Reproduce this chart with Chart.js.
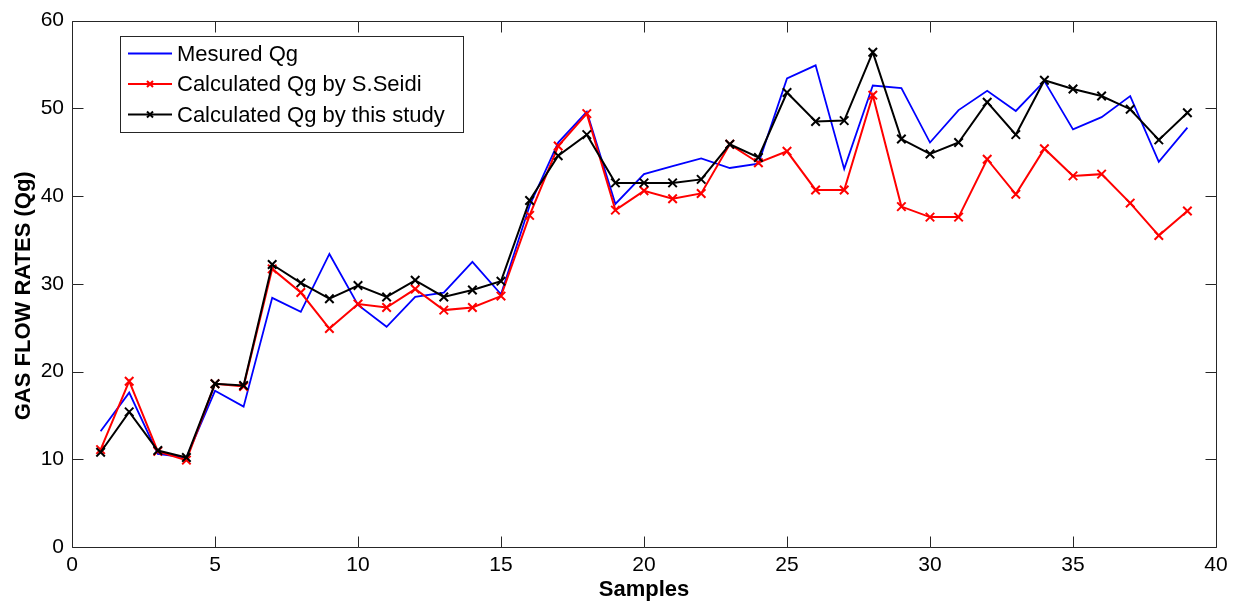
<!DOCTYPE html>
<html>
<head>
<meta charset="utf-8">
<script src="https://cdn.jsdelivr.net/npm/chart.js@4.4.0/dist/chart.umd.min.js"></script>
<style>
  html, body { margin: 0; padding: 0; background: #fff; }
  #wrap { width: 1246px; height: 606px; }
</style>
</head>
<body>
<div id="wrap"><canvas id="chart" width="1246" height="606"></canvas></div>
<script>
// samples on the x axis
const samples = [1, 2, 3, 4, 5, 6, 7, 8, 9, 10, 11, 12, 13, 14, 15, 16, 17, 18, 19, 20,
  21, 22, 23, 24, 25, 26, 27, 28, 29, 30, 31, 32, 33, 34, 35, 36, 37, 38, 39];
// gas flow rates
const measuredQg = [13.2, 17.6, 10.6, 10.2, 17.8, 16.0, 28.4, 26.8, 33.4, 27.6, 25.1, 28.5, 29.0, 32.5, 28.8, 38.9, 46.1, 49.6, 39.1, 42.5,
  43.4, 44.3, 43.2, 43.7, 53.4, 54.9, 43.1, 52.6, 52.3, 46.1, 49.8, 52.0, 49.7, 53.1, 47.6, 49.0, 51.4, 43.9, 47.8];
const seidiQg = [11.1, 18.9, 10.9, 9.9, 18.6, 18.3, 31.7, 29.0, 24.9, 27.7, 27.3, 29.4, 27.0, 27.3, 28.6, 37.8, 45.7, 49.4, 38.4, 40.6,
  39.7, 40.3, 45.9, 43.8, 45.1, 40.7, 40.7, 51.5, 38.8, 37.6, 37.6, 44.2, 40.2, 45.4, 42.3, 42.5, 39.2, 35.5, 38.3];
const studyQg = [10.8, 15.4, 11.0, 10.2, 18.6, 18.4, 32.2, 30.1, 28.3, 29.8, 28.5, 30.4, 28.5, 29.3, 30.3, 39.5, 44.6, 47.0, 41.5, 41.5,
  41.5, 41.9, 45.9, 44.4, 51.8, 48.5, 48.6, 56.4, 46.5, 44.8, 46.1, 50.7, 47.0, 53.2, 52.2, 51.4, 49.9, 46.4, 49.5];
const xTicks = [0, 5, 10, 15, 20, 25, 30, 35, 40];
const yTicks = [0, 10, 20, 30, 40, 50, 60];

const FONT = "'Liberation Sans', Arial, sans-serif";

let pts = (v) => samples.map((x, i) => ({x: x, y: v[i]}));

// box round the axes with ticks pointing inward
const axesBox =
{
  id: 'axesBox',
  afterDatasetsDraw(chart)
  {
    const {ctx, chartArea: a, scales: {x, y}} = chart;
    const L = Math.round(a.left) + 0.5, R = Math.round(a.right) + 0.5;
    const T = Math.round(a.top) + 0.5, B = Math.round(a.bottom) + 0.5;
    const tl = 11;
    ctx.save();
    ctx.strokeStyle = '#262626';
    ctx.lineWidth = 1;
    ctx.beginPath();
    ctx.rect(L, T, R - L, B - T);
    for (let v of xTicks)
    {
      let px = Math.round(x.getPixelForValue(v)) + 0.5;
      ctx.moveTo(px, B); ctx.lineTo(px, B - tl);
      ctx.moveTo(px, T); ctx.lineTo(px, T + tl);
    }
    for (let v of yTicks)
    {
      let py = Math.round(y.getPixelForValue(v)) + 0.5;
      ctx.moveTo(L, py); ctx.lineTo(L + tl, py);
      ctx.moveTo(R, py); ctx.lineTo(R - tl, py);
    }
    ctx.stroke();
    ctx.restore();
  }
};

// y title sits a little below the middle of the axis in the original
const yTitle =
{
  id: 'yTitle',
  afterDraw(chart)
  {
    const {ctx, chartArea: a} = chart;
    ctx.save();
    ctx.translate(24, (a.top + a.bottom) / 2 + 12);
    ctx.rotate(-Math.PI / 2);
    ctx.font = 'bold 22px ' + FONT;
    ctx.fillStyle = '#000';
    ctx.textAlign = 'center';
    ctx.textBaseline = 'middle';
    ctx.fillText('GAS FLOW RATES (Qg)', 0, 0);
    ctx.restore();
  }
};

// legend box in the upper left corner
const boxLegend =
{
  id: 'boxLegend',
  afterDraw(chart)
  {
    const ctx = chart.ctx;
    const bx = 120.5, by = 36.5, bw = 343, bh = 96;
    ctx.save();
    ctx.fillStyle = '#fff';
    ctx.fillRect(bx, by, bw, bh);
    ctx.strokeStyle = '#262626';
    ctx.lineWidth = 1;
    ctx.strokeRect(bx, by, bw, bh);
    ctx.font = '22px ' + FONT;
    ctx.textBaseline = 'middle';
    ctx.textAlign = 'left';
    chart.data.datasets.forEach((d, i) =>
    {
      let ly = 53.5 + i * 30.5;
      ctx.strokeStyle = d.borderColor;
      ctx.lineWidth = 2;
      ctx.beginPath();
      ctx.moveTo(128, ly); ctx.lineTo(172, ly);
      ctx.stroke();
      if (d.pointRadius > 0)
      {
        let r = 3, cx = 150;
        ctx.beginPath();
        ctx.moveTo(cx - r, ly - r); ctx.lineTo(cx + r, ly + r);
        ctx.moveTo(cx - r, ly + r); ctx.lineTo(cx + r, ly - r);
        ctx.stroke();
      }
      ctx.fillStyle = '#000';
      ctx.fillText(d.label, 177, ly + 1);
    });
    ctx.restore();
  }
};

new Chart(document.getElementById('chart'),
{
  type: 'line',
  data:
  {
    datasets:
    [
      {label: 'Mesured Qg', data: pts(measuredQg), borderColor: '#0000ff', borderWidth: 1.8, pointRadius: 0, order: 2},
      {label: 'Calculated Qg by S.Seidi', data: pts(seidiQg), borderColor: '#ff0000', borderWidth: 2, pointStyle: 'crossRot', pointRadius: 6, pointBorderWidth: 2, pointBorderColor: '#ff0000', order: 1},
      {label: 'Calculated Qg by this study', data: pts(studyQg), borderColor: '#000000', borderWidth: 2, pointStyle: 'crossRot', pointRadius: 6, pointBorderWidth: 2, pointBorderColor: '#000000', order: 0}
    ]
  },
  options:
  {
    responsive: false,
    animation: false,
    devicePixelRatio: 1,
    layout: {padding: {top: 20, right: 30, left: 0, bottom: 0}},
    elements: {line: {tension: 0}},
    plugins: {legend: {display: false}, tooltip: {enabled: false}},
    scales:
    {
      x:
      {
        type: 'linear', min: 0, max: 40,
        afterBuildTicks: (s) => { s.ticks = xTicks.map((v) => ({value: v})); },
        afterFit: (s) => { s.height = 59; },
        grid: {display: false, drawTicks: false},
        border: {display: false},
        ticks: {font: {family: FONT, size: 21}, color: '#000', padding: 6, maxRotation: 0, autoSkip: false},
        title: {display: true, text: 'Samples', color: '#000', font: {family: FONT, size: 22, weight: 'bold'}, padding: {top: 0, bottom: 3}}
      },
      y:
      {
        type: 'linear', min: 0, max: 60,
        afterBuildTicks: (s) => { s.ticks = yTicks.map((v) => ({value: v})); },
        afterFit: (s) => { s.width = 72; },
        grid: {display: false, drawTicks: false},
        border: {display: false},
        ticks: {font: {family: FONT, size: 21}, color: '#000', padding: 8, autoSkip: false}
      }
    }
  },
  plugins: [axesBox, yTitle, boxLegend]
});
</script>
</body>
</html>
